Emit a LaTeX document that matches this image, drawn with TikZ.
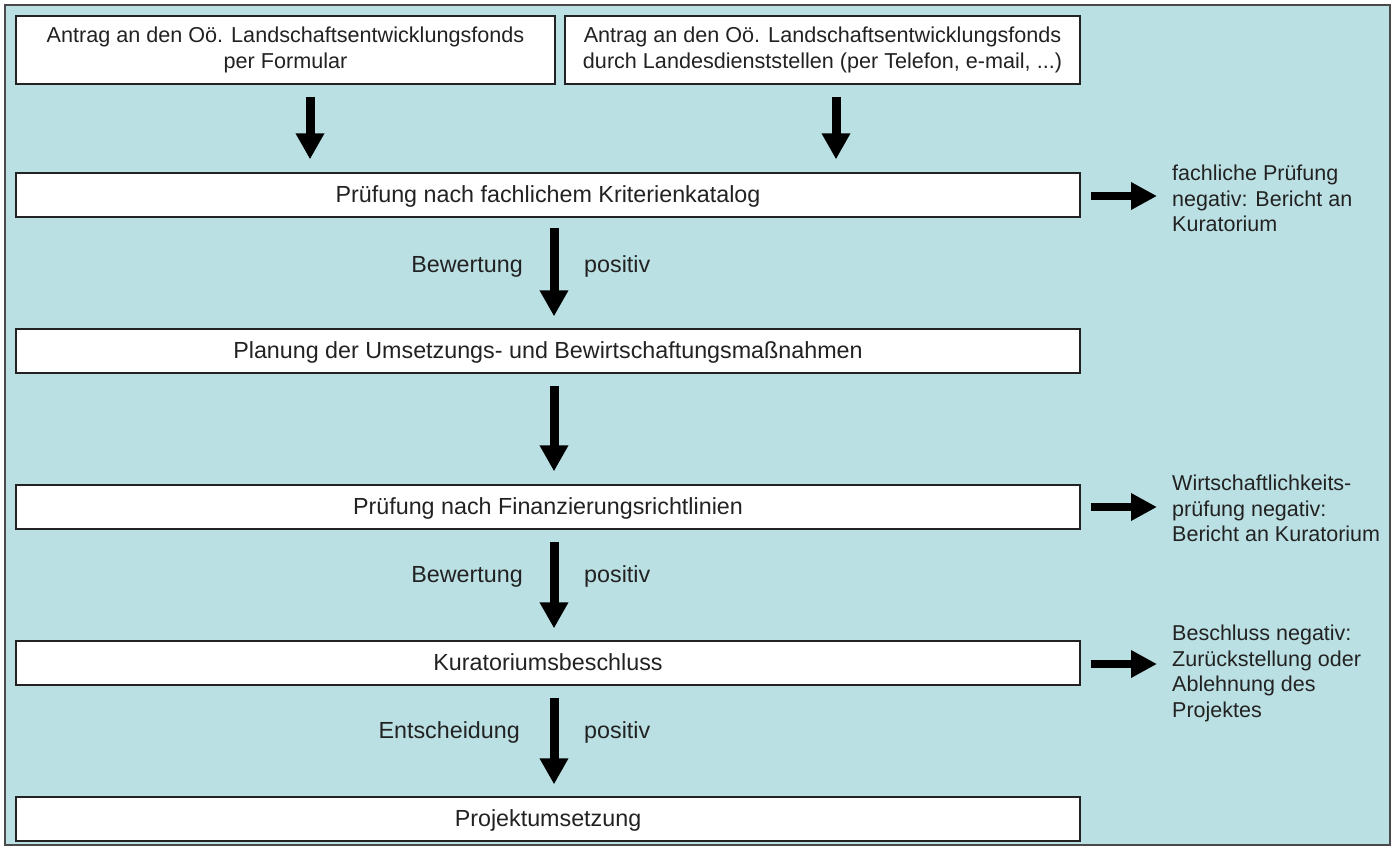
\documentclass[tikz,border=0pt]{standalone}
\usepackage{fontspec}
\setmainfont{Liberation Sans}
\usetikzlibrary{arrows.meta,calc}
\definecolor{bgblue}{HTML}{BBE0E3}
\definecolor{framegray}{HTML}{4A4A4A}
\definecolor{ink}{HTML}{222222}
\begin{document}
\begin{tikzpicture}[x=1pt,y=-1pt,
  box/.style={draw=ink, line width=1.3pt, fill=white, inner sep=0pt, text=ink,
    font=\fontsize{23.3}{27}\selectfont, minimum width=1064pt, minimum height=44pt,
    text height=16pt, text depth=2pt},
  topbox/.style={draw=ink, line width=1.3pt, fill=white, inner sep=0pt, text=ink,
    align=center, font=\fontsize{21.6}{26}\selectfont, minimum height=68pt},
  varrow/.style={draw=black, line width=9pt, -{Triangle[width=27pt,length=26pt]}},
  harrow/.style={draw=black, line width=7.5pt, -{Triangle[width=26pt,length=26pt]}},
  lbl/.style={inner sep=0pt, text=ink, font=\fontsize{23.3}{27}\selectfont,
    text height=16pt, text depth=2pt},
  side/.style={inner sep=0pt, text=ink, align=left, anchor=north west,
    font=\fontsize{21.5}{25.5}\selectfont}]
\useasboundingbox (0,0) rectangle (1394,849);
\fill[white] (0,0) rectangle (1394,849);
\draw[framegray, line width=2pt, fill=bgblue] (5,5) rectangle (1390,845);

% top boxes
\node[topbox, minimum width=539pt] (b1) at (285.5,50)
  {Antrag an den Oö. Landschaftsentwicklungsfonds\\per Formular};
\node[topbox, minimum width=515pt] (b2) at (822.5,50)
  {Antrag an den Oö. Landschaftsentwicklungsfonds\\durch Landesdienststellen (per Telefon, e-mail, ...)};

% main boxes
\node[box] (b3) at (548,195) {Prüfung nach fachlichem Kriterienkatalog};
\node[box] (b4) at (548,351) {Planung der Umsetzungs- und Bewirtschaftungsmaßnahmen};
\node[box] (b5) at (548,507) {Prüfung nach Finanzierungsrichtlinien};
\node[box] (b6) at (548,663) {Kuratoriumsbeschluss};
\node[box] (b7) at (548,819) {Projektumsetzung};

% x positions of the arrows
\coordinate (a1x) at (310,0);
\coordinate (a2x) at (836,0);
\coordinate (ax) at (554,0);

% top arrows
\draw[varrow, shorten <=12pt, shorten >=13pt] (b1.south -| a1x) -- (b3.north -| a1x);
\draw[varrow, shorten <=12pt, shorten >=13pt] (b2.south -| a2x) -- (b3.north -| a2x);

% main arrows
\draw[varrow, shorten <=10pt, shorten >=12pt] (b3.south -| ax) -- (b4.north -| ax);
\draw[varrow, shorten <=12pt, shorten >=13pt] (b4.south -| ax) -- (b5.north -| ax);
\draw[varrow, shorten <=12pt, shorten >=12pt] (b5.south -| ax) -- (b6.north -| ax);
\draw[varrow, shorten <=12pt, shorten >=12pt] (b6.south -| ax) -- (b7.north -| ax);

% labels
\node[lbl, anchor=east] (l1) at (523,265) {Bewertung};
\node[lbl, anchor=west] (p1) at (584,265) {positiv};
\node[lbl, anchor=east] (l2) at (523,575) {Bewertung};
\node[lbl, anchor=west] (p2) at (584,575) {positiv};
\node[lbl, anchor=east] (l3) at (520,731) {Entscheidung};
\node[lbl, anchor=west] (p3) at (584,731) {positiv};

% side arrows
\coordinate (r1) at (1157,196);
\coordinate (r2) at (1157,507);
\coordinate (r3) at (1157,664);
\draw[harrow, shorten <=10pt] (b3.east |- r1) -- (r1);
\draw[harrow, shorten <=10pt] (b5.east |- r2) -- (r2);
\draw[harrow, shorten <=10pt] (b6.east |- r3) -- (r3);

% side texts
\node[side] (s1) at (1172,165) {fachliche Prüfung\\negativ: Bericht an\\Kuratorium};
\node[side] (s2) at (1172,475) {Wirtschaftlichkeits-\\prüfung negativ:\\Bericht an Kuratorium};
\node[side] (s3) at (1172,625) {Beschluss negativ:\\Zurückstellung oder\\Ablehnung des\\Projektes};
\end{tikzpicture}
\end{document}
